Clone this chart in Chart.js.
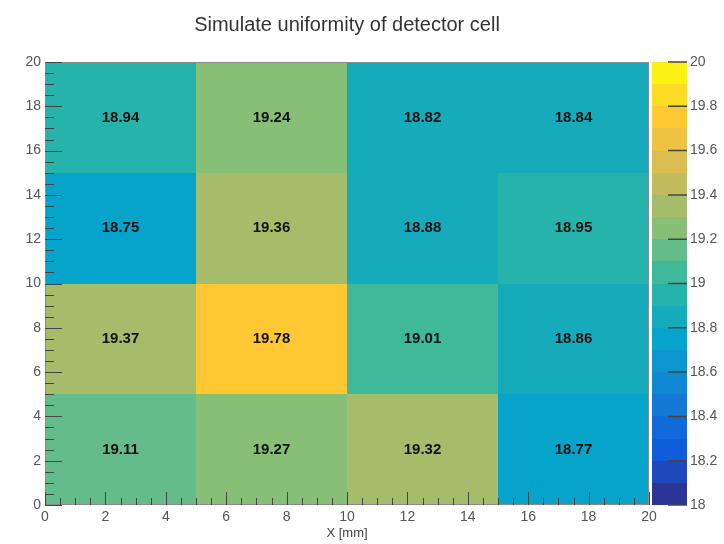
<!DOCTYPE html>
<html>
<head>
<meta charset="utf-8">
<script src="https://cdn.jsdelivr.net/npm/chart.js@4/dist/chart.umd.min.js"></script>
<style>
html, body { margin: 0; padding: 0; background: #fff; }
</style>
</head>
<body>
<canvas id="heatChart" width="724" height="544"></canvas>
<script>
// bin edges [mm]
const xEdges = [0, 5, 10, 15, 20];
const yEdges = [0, 5, 10, 15, 20];

// cell values, from the bottom row (y 0-5) to the top row (y 15-20)
const row0 = [19.11, 19.27, 19.32, 18.77];
const row1 = [19.37, 19.78, 19.01, 18.86];
const row2 = [18.75, 19.36, 18.88, 18.95];
const row3 = [18.94, 19.24, 18.82, 18.84];
const rows = [row0, row1, row2, row3];

// colour scale range, contour count and tick labels
const zMin = 18;
const zMax = 20;
const nContours = 20;
const zTicks = [18, 18.2, 18.4, 18.6, 18.8, 19, 19.2, 19.4, 19.6, 19.8, 20];
const axisTicks = [0, 2, 4, 6, 8, 10, 12, 14, 16, 18, 20];

const FONT = "'Liberation Sans', Arial, sans-serif";

// ROOT "bird" palette stops
const birdR = [0.2082, 0.0592, 0.0780, 0.0232, 0.1802, 0.5301, 0.8186, 0.9956, 0.9764];
const birdG = [0.1664, 0.3599, 0.5041, 0.6419, 0.7178, 0.7492, 0.7328, 0.7862, 0.9832];
const birdB = [0.5293, 0.8684, 0.8385, 0.7914, 0.6425, 0.4662, 0.3499, 0.1968, 0.0539];

function bird(t) {
  const p = t * (birdR.length - 1);
  const i = Math.min(Math.floor(p), birdR.length - 2);
  const f = p - i;
  const c = arr => Math.round(255 * (arr[i] + f * (arr[i + 1] - arr[i])));
  return 'rgb(' + c(birdR) + ',' + c(birdG) + ',' + c(birdB) + ')';
}

function bandColor(k) {
  return bird((k + 0.5) / nContours);
}

function colorFor(v) {
  let k = Math.floor((v - zMin) / (zMax - zMin) * nContours);
  k = Math.max(0, Math.min(nContours - 1, k));
  return bandColor(k);
}

// cell centres as points so the scales know the data
const cells = [];
rows.forEach((r, j) => {
  r.forEach((v, i) => {
    cells.push({ x: (xEdges[i] + xEdges[i + 1]) / 2, y: (yEdges[j] + yEdges[j + 1]) / 2, v: v, i: i, j: j });
  });
});

const heatPlugin = {
  id: 'heat',
  beforeDatasetsDraw(chart) {
    const ctx = chart.ctx;
    const xs = chart.scales.x, ys = chart.scales.y, zs = chart.scales.z;
    ctx.save();
    cells.forEach(c => {
      const x0 = Math.round(xs.getPixelForValue(xEdges[c.i]));
      const x1 = Math.round(xs.getPixelForValue(xEdges[c.i + 1]));
      const y0 = Math.round(ys.getPixelForValue(yEdges[c.j]));
      const y1 = Math.round(ys.getPixelForValue(yEdges[c.j + 1]));
      ctx.fillStyle = colorFor(c.v);
      ctx.fillRect(x0, y1, x1 - x0, y0 - y1);
    });
    // colour bar
    const bx = Math.round(zs.left) + 3, bw = 35;
    for (let k = 0; k < nContours; k++) {
      const a = Math.round(zs.getPixelForValue(zMin + k * (zMax - zMin) / nContours));
      const b = Math.round(zs.getPixelForValue(zMin + (k + 1) * (zMax - zMin) / nContours));
      ctx.fillStyle = bandColor(k);
      ctx.fillRect(bx, b, bw, a - b);
    }
    ctx.restore();
  },
  afterDatasetsDraw(chart) {
    const ctx = chart.ctx;
    const xs = chart.scales.x, ys = chart.scales.y, zs = chart.scales.z;
    const area = chart.chartArea;
    ctx.save();
    // values in cells
    ctx.fillStyle = '#111';
    ctx.font = 'bold 15px ' + FONT;
    ctx.textAlign = 'center';
    ctx.textBaseline = 'middle';
    cells.forEach(c => {
      ctx.fillText(c.v.toFixed(2), xs.getPixelForValue(c.x), ys.getPixelForValue(c.y));
    });
    // frame
    ctx.strokeStyle = '#8a8a8a';
    ctx.lineWidth = 1;
    ctx.strokeRect(area.left + 0.5, area.top + 0.5, area.right - area.left - 1, area.bottom - area.top - 1);
    // inside tick marks
    ctx.strokeStyle = '#444';
    ctx.beginPath();
    for (let v = 0; v <= 20; v += 0.5) {
      const major = v % 2 === 0;
      const py = Math.round(ys.getPixelForValue(v)) + 0.5;
      ctx.moveTo(area.left, py);
      ctx.lineTo(area.left + (major ? 17 : 9), py);
      const px = Math.round(xs.getPixelForValue(v)) + 0.5;
      ctx.moveTo(px, area.bottom);
      ctx.lineTo(px, area.bottom - (major ? 13 : 7));
    }
    ctx.stroke();
    // colour bar ticks
    ctx.lineWidth = 1.5;
    ctx.beginPath();
    zTicks.forEach(t => {
      const py = zs.getPixelForValue(t);
      ctx.moveTo(zs.left + 38, py);
      ctx.lineTo(zs.left + 19, py);
    });
    ctx.stroke();
    ctx.restore();
  }
};

const tickFont = { family: FONT, size: 14 };

const heatChart = new Chart(document.getElementById('heatChart'), {
  type: 'scatter',
  data: {
    datasets: [{
      data: cells,
      pointRadius: 0,
      pointHoverRadius: 0
    }]
  },
  plugins: [heatPlugin],
  options: {
    responsive: false,
    animation: false,
    events: [],
    layout: { padding: 0 },
    plugins: {
      legend: { display: false },
      tooltip: { enabled: false },
      title: {
        display: true,
        fullSize: false,
        text: 'Simulate uniformity of detector cell',
        color: '#333',
        font: { family: FONT, size: 20, weight: 'normal' },
        padding: { top: 13, bottom: 25 }
      }
    },
    scales: {
      x: {
        type: 'linear',
        min: 0,
        max: 20,
        afterBuildTicks: s => { s.ticks = axisTicks.map(v => ({ value: v })); },
        ticks: { font: tickFont, color: '#555', padding: 4, maxRotation: 0 },
        grid: { display: false, drawTicks: false },
        border: { display: false },
        title: {
          display: true,
          text: 'X [mm]',
          color: '#444',
          font: { family: FONT, size: 13 },
          padding: { top: 0, bottom: 3 }
        },
        afterFit: s => { s.height = 39; }
      },
      y: {
        type: 'linear',
        min: 0,
        max: 20,
        afterBuildTicks: s => { s.ticks = axisTicks.map(v => ({ value: v })); },
        ticks: { font: tickFont, color: '#555', padding: 4 },
        grid: { display: false, drawTicks: false },
        border: { display: false },
        afterFit: s => { s.width = 45; }
      },
      z: {
        type: 'linear',
        position: 'right',
        min: zMin,
        max: zMax,
        afterBuildTicks: s => { s.ticks = zTicks.map(v => ({ value: v })); },
        ticks: {
          font: tickFont,
          color: '#555',
          padding: 3,
          callback: v => String(parseFloat(v.toFixed(1)))
        },
        // transparent tick marks just reserve the colour bar width
        grid: { display: true, drawOnChartArea: false, drawTicks: true, tickLength: 38, tickColor: 'rgba(0,0,0,0)' },
        border: { display: false },
        afterFit: s => { s.width = 75; }
      }
    }
  }
});
</script>
</body>
</html>
